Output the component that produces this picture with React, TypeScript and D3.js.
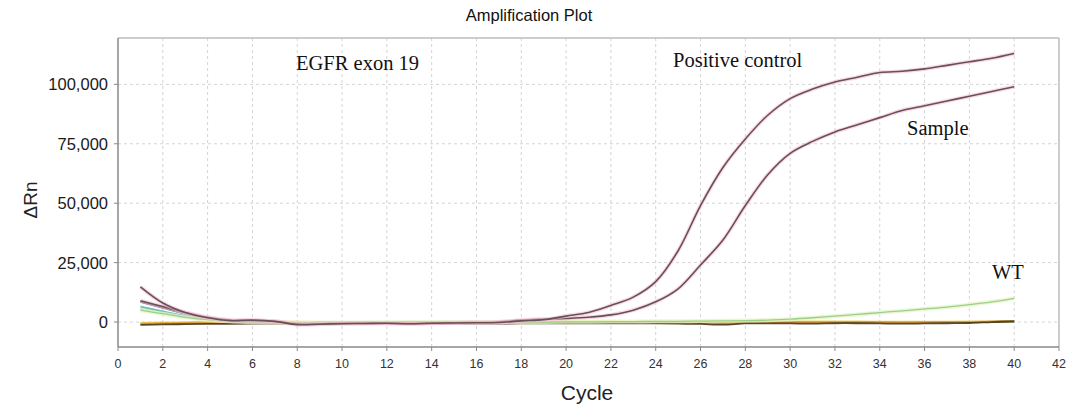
import React from "react";
import * as d3 from "d3";

const cycles = [1,2,3,4,5,6,7,8,9,10,11,12,13,14,15,16,17,18,19,20,21,22,23,24,25,26,27,28,29,30,31,32,33,34,35,36,37,38,39,40];

const positiveControl = [14800, 8000, 4000, 1800, 600, 800, 300, -1100, -900, -700, -600, -500, -700, -500, -400, -300, -200, 500, 1000, 2500, 4000, 7000, 10500, 17000, 30000, 49000, 65000, 77000, 87000, 94000, 98000, 101000, 103000, 105000, 105500, 106500, 108000, 109500, 111000, 113000];
const sample = [9000, 6500, 4000, 2000, 800, 600, 300, -800, -700, -500, -500, -500, -600, -400, -300, -200, 0, 800, 1200, 1500, 2000, 3000, 5000, 8500, 14000, 24000, 34500, 49000, 62000, 71000, 76000, 80000, 83000, 86000, 89000, 91000, 93000, 95000, 97000, 99000];
const wt = [5000, 3500, 2000, 1000, 300, 0, -200, -300, -200, -200, -100, -100, 0, 0, 0, 0, 0, 0, 0, 100, 100, 200, 200, 300, 300, 400, 500, 600, 800, 1200, 1800, 2500, 3200, 4000, 4700, 5500, 6300, 7300, 8500, 10000];
const bgNavy = [8500, 6000, 3500, 1600, 500, 100, 0, -200, -300, -300, -300, -200, -200, -200, -100, -100, 0, 0, 0, 0, 0, 0, 0, 0, 0, 0, -200, 0, 0, 0, 0, 0, 0, 0, 0, 0, 0, 0, 200, 500];
const bgTeal = [6500, 4500, 2600, 1200, 300, 0, -100, -200, -200, -200, -200, -100, -100, -100, 0, 0, 0, 0, 0, 0, 0, 0, 0, 0, 0, 0, 0, 0, 0, 0, 0, 0, 0, 0, 0, 0, 0, 0, 0, 0];
const bgGreen = [5500, 4000, 2300, 1000, 200, 0, -100, -100, -100, -100, -100, 0, 0, 0, 0, 0, 0, 0, 0, 0, 0, 0, 0, 0, 0, 0, 0, 0, 0, 0, 0, 0, 0, 0, 0, 0, 0, 0, 0, 0];
const bgYellow = [-400, -200, 0, 200, 300, 300, 200, 200, 100, 100, 100, 100, 100, 100, 100, 100, 200, 200, 300, 300, 300, 300, 200, 200, 200, 300, 300, 300, 400, 400, 300, 300, 300, 200, 200, 200, 200, 300, 300, 300];
const bgBrown = [-1200, -1000, -900, -800, -800, -700, -700, -800, -800, -800, -800, -800, -800, -800, -700, -700, -700, -600, -600, -600, -600, -600, -600, -600, -700, -800, -1100, -600, -600, -600, -700, -500, -500, -600, -700, -600, -500, -400, 0, 300];
const bgOrange = [-700, -500, -400, -300, -300, -300, -200, -300, -300, -300, -300, -300, -300, -200, -200, -200, -100, -100, -100, 0, 0, 0, 0, -100, -100, -200, -300, 0, 0, 0, 0, 0, 100, 0, -100, 0, 100, 100, 200, 300];

const xTicks = [0,2,4,6,8,10,12,14,16,18,20,22,24,26,28,30,32,34,36,38,40,42];
const yTicks = [0, 25000, 50000, 75000, 100000];

const W = 1068, H = 408;
const left = 118, right = 1059, top = 38, bottom = 347;

export default function App() {
  const x = d3.scaleLinear().domain([0, 42]).range([left, right]);
  const y = d3.scaleLinear().domain([-10500, 119500]).range([bottom, top]);
  const line = d3.line<number>().x((_, i) => x(cycles[i])).y((d) => y(d)).curve(d3.curveCatmullRom.alpha(0.5));
  const fmt = d3.format(",");

  const bgSeries: [number[], string][] = [
    [bgGreen, "#8fd6a0"],
    [bgTeal, "#5ab8b0"],
    [bgNavy, "#5a4a78"],
    [bgYellow, "#f2d24a"],
    [bgOrange, "#d89a3a"],
    [bgBrown, "#4a3418"],
  ];

  return (
    <svg width={W} height={H} style={{ position: "absolute", left: 0, top: 0, background: "#fff" }}>
      <rect x={0} y={0} width={W} height={H} fill="#fff" />
      <text x={529} y={21} textAnchor="middle" fontFamily="Liberation Sans, Arial, sans-serif" fontSize={16.5} fill="#111">Amplification Plot</text>
      {xTicks.filter((t) => t > 0 && t < 42).map((t) => (
        <line key={"gx" + t} x1={x(t)} x2={x(t)} y1={top} y2={bottom} stroke="#d4d4d4" strokeDasharray="3,3" strokeWidth={1} />
      ))}
      {yTicks.map((t) => (
        <line key={"gy" + t} x1={left} x2={right} y1={y(t)} y2={y(t)} stroke="#d4d4d4" strokeDasharray="3,3" strokeWidth={1} />
      ))}
      <line x1={left} x2={right} y1={top} y2={top} stroke="#bdbdbd" strokeWidth={1.5} />
      <line x1={right} x2={right} y1={top} y2={bottom} stroke="#bdbdbd" strokeWidth={1.5} />
      {bgSeries.map(([d, c], i) => (
        <path key={"bg" + i} d={line(d) || ""} fill="none" stroke={c} strokeWidth={1.8} opacity={0.9} />
      ))}
      <path d={line(wt) || ""} fill="none" stroke="#e6f5c8" strokeWidth={4} opacity={0.8} />
      <path d={line(wt) || ""} fill="none" stroke="#9ccf8a" strokeWidth={1.3} />
      {[sample, positiveControl].map((d, i) => (
        <g key={"m" + i}>
          <path d={line(d) || ""} fill="none" stroke="#f6c0d4" strokeWidth={4} opacity={0.6} />
          <path d={line(d) || ""} fill="none" stroke="#66505a" strokeWidth={1.6} />
        </g>
      ))}
      <line x1={left} x2={left} y1={top} y2={bottom} stroke="#8a8a8a" strokeWidth={1.5} />
      <line x1={left} x2={right} y1={bottom} y2={bottom} stroke="#8a8a8a" strokeWidth={1.5} />
      {xTicks.map((t) => (
        <g key={"xt" + t}>
          <line x1={x(t)} x2={x(t)} y1={bottom} y2={bottom + 4} stroke="#8a8a8a" />
          <text x={x(t)} y={bottom + 21} textAnchor="middle" fontFamily="Liberation Sans, Arial, sans-serif" fontSize={12.5} fill="#333">{t}</text>
        </g>
      ))}
      {yTicks.map((t) => (
        <g key={"yt" + t}>
          <line x1={left - 4} x2={left} y1={y(t)} y2={y(t)} stroke="#8a8a8a" />
          <text x={left - 10} y={y(t) + 6} textAnchor="end" fontFamily="Liberation Sans, Arial, sans-serif" fontSize={16.5} fill="#1a1a1a">{fmt(t)}</text>
        </g>
      ))}
      <text transform="translate(37,200) rotate(-90)" textAnchor="middle" fontFamily="Liberation Sans, Arial, sans-serif" fontSize={19} fill="#222">ΔRn</text>
      <text x={587} y={400} textAnchor="middle" fontFamily="Liberation Sans, Arial, sans-serif" fontSize={21} fill="#222">Cycle</text>
      <text x={296} y={70} fontFamily="Liberation Serif, Times New Roman, serif" fontSize={20.5} fill="#111">EGFR exon 19</text>
      <text x={673} y={67} fontFamily="Liberation Serif, Times New Roman, serif" fontSize={20.5} fill="#111">Positive control</text>
      <text x={907} y={135} fontFamily="Liberation Serif, Times New Roman, serif" fontSize={20.5} fill="#111">Sample</text>
      <text x={992} y={279} fontFamily="Liberation Serif, Times New Roman, serif" fontSize={20.5} fill="#111">WT</text>
    </svg>
  );
}
